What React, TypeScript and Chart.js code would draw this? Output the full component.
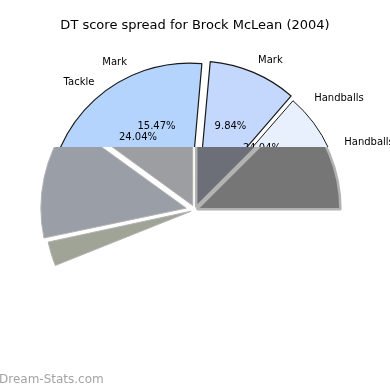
import React, { useEffect, useRef } from "react";
import { Chart, registerables } from "chart.js";

Chart.register(...registerables);

const TITLE = "DT score spread for Brock McLean (2004)";
const WATERMARK = "Dream-Stats.com";

// Upper (lit) face of the tilted pie — angular shares in degrees
const faceCategories = ["Tackle / Mark", "Mark", "Handballs", "hidden"];
const faceValues = [95, 36, 49, 180];
const faceColors = ["#b4d4fe", "#c4d8fd", "#e8f0fd", "rgba(0,0,0,0)"];

// Lower (shaded) side of the tilted pie — angular shares in degrees
const sideCategories = ["Kick", "Tackle", "Mark", "Mark", "Handballs", "hidden"];
const sideValues = [10, 48, 54, 45, 45, 158];
const sideColors = ["#a0a496", "#9a9ea6", "#9c9ea2", "#6c6f78", "#767676", "rgba(0,0,0,0)"];

// Slice labels
const labelNames = ["Tackle", "Mark", "Mark", "Handballs", "Handballs"];
const labelPercents = ["24.04%", "15.47%", "9.84%", "24.04%", ""];

export default function App() {
  const faceRef = useRef<HTMLCanvasElement>(null);
  const sideRef = useRef<HTMLCanvasElement>(null);

  useEffect(() => {
    const SPLIT_Y = 147;
    const FONT = "'DejaVu Sans', sans-serif";

    const bandClip = (y0: number, y1: number) => ({
      id: "bandClip",
      beforeDatasetsDraw(chart: any) {
        const c = chart.ctx;
        c.save();
        c.beginPath();
        c.rect(0, y0, chart.width, y1 - y0);
        c.clip();
      },
      afterDatasetsDraw(chart: any) {
        chart.ctx.restore();
      },
    });

    // label layout: [angle clockwise from top (deg), radius (px)]
    const nameLayout: [number, number][] = [
      [317.8, 172.7],
      [331.5, 168.5],
      [26.7, 167.9],
      [52.1, 182.4],
      [68.7, 186.8],
    ];
    const pctLayout: [number, number][] = [
      [322, 92.6],
      [335.4, 92.4],
      [22.9, 91.2],
      [47.2, 91.3],
      [0, 0],
    ];

    const textPlugin = {
      id: "faceText",
      afterDraw(chart: any) {
        const c = chart.ctx;
        const a = chart.chartArea;
        const cx = (a.left + a.right) / 2;
        const cy = (a.top + a.bottom) / 2;
        const pos = (deg: number, r: number) => {
          const t = (deg * Math.PI) / 180;
          return [cx + r * Math.sin(t), cy - r * Math.cos(t)];
        };
        c.save();
        c.fillStyle = "#000";
        c.textAlign = "center";
        c.textBaseline = "middle";
        c.font = `13px ${FONT}`;
        c.fillText(TITLE, chart.width / 2, 26);
        c.font = `10px ${FONT}`;
        labelNames.forEach((n, i) => {
          const [x, y] = pos(nameLayout[i][0], nameLayout[i][1]);
          c.fillText(n, x, y);
        });
        c.beginPath();
        c.rect(0, 0, chart.width, SPLIT_Y);
        c.clip();
        labelPercents.forEach((p, i) => {
          if (!p) return;
          const [x, y] = pos(pctLayout[i][0], pctLayout[i][1]);
          c.fillText(p, x, y);
        });
        c.restore();
      },
    };

    const watermarkPlugin = {
      id: "watermark",
      afterDraw(chart: any) {
        const c = chart.ctx;
        c.save();
        c.fillStyle = "#a4a4a4";
        c.font = `12px ${FONT}`;
        c.textAlign = "left";
        c.textBaseline = "middle";
        c.fillText(WATERMARK, -1, 380);
        c.restore();
      },
    };

    const common = (rotation: number, radius: number) => ({
      responsive: false,
      animation: false as const,
      rotation,
      radius,
      layout: { padding: { top: 30, bottom: 0, left: 0, right: 0 } },
      plugins: {
        legend: { display: false },
        tooltip: { enabled: false },
        title: { display: false },
      },
      events: [] as any[],
    });

    // Chart.js v4 arcs translate by offset / 4
    const side = new Chart(sideRef.current!, {
      type: "pie",
      data: {
        labels: sideCategories,
        datasets: [
          {
            data: sideValues,
            backgroundColor: sideColors,
            borderColor: "#b2b2b2",
            borderWidth: [1, 1, 1, 2.5, 2.5, 0],
            offset: [16, 36, 20, 12, 8, 0],
          },
        ],
      },
      options: common(248, 143) as any,
      plugins: [bandClip(SPLIT_Y, 390), watermarkPlugin],
    });

    const face = new Chart(faceRef.current!, {
      type: "pie",
      data: {
        labels: faceCategories,
        datasets: [
          {
            data: faceValues,
            backgroundColor: faceColors,
            borderColor: "#1a1a1a",
            borderWidth: [1.2, 1.2, 1, 0],
            offset: [32, 24, 20, 0],
          },
        ],
      },
      options: common(270, 141) as any,
      plugins: [bandClip(0, SPLIT_Y), textPlugin],
    });

    return () => {
      face.destroy();
      side.destroy();
    };
  }, []);

  return (
    <div style={{ position: "fixed", left: 0, top: 0, width: 390, height: 390, background: "#fff" }}>
      <canvas ref={sideRef} width={390} height={390} style={{ position: "absolute", left: 0, top: 0 }} />
      <canvas ref={faceRef} width={390} height={390} style={{ position: "absolute", left: 0, top: 0 }} />
    </div>
  );
}
